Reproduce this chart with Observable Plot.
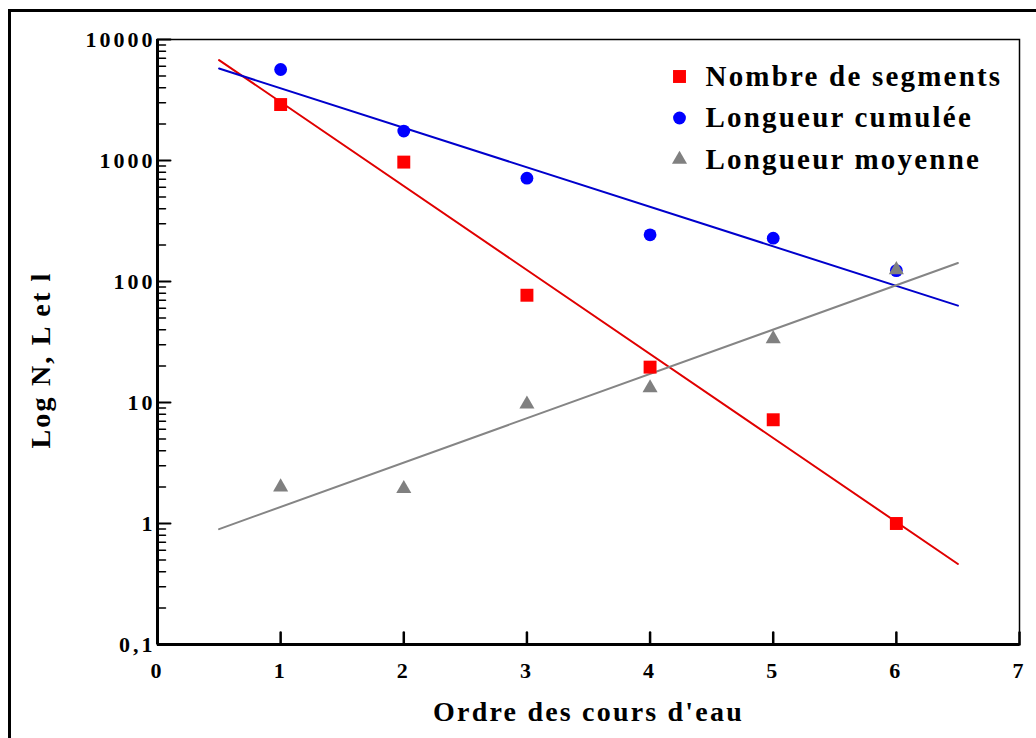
<!DOCTYPE html>
<html>
<head>
<meta charset="utf-8">
<script src="https://cdn.jsdelivr.net/npm/d3@7"></script>
<script src="https://cdn.jsdelivr.net/npm/@observablehq/plot@0.6"></script>
<style>
html, body { margin: 0; padding: 0; background: #fff; overflow: hidden; width: 1036px; height: 738px; }
#wrap { position: relative; width: 1036px; height: 738px; overflow: hidden; }
#border { position: absolute; left: 8px; top: 9px; width: 1200px; height: 900px; border-left: 3px solid #000; border-top: 3px solid #000; }
#chart { position: absolute; left: 0; top: 0; }
svg text { font-family: "Liberation Serif", "Times New Roman", serif; font-weight: bold; }
g[aria-label="y-axis tick label"] text, g[aria-label="x-axis tick label"] text { letter-spacing: 3px; }
g[aria-label="text"] text { letter-spacing: 2.2px; }
</style>
</head>
<body>
<div id="wrap"><div id="border"></div><div id="chart"></div></div>
<script>
// ---- Data ----
const orders = [1, 2, 3, 4, 5, 6];
const nombreSegments = [2900, 970, 77, 19.6, 7.2, 1.0];
const longueurCumulee = [5650, 1750, 714, 243, 228, 123];
const longueurMoyenne = [2.0, 1.94, 9.7, 13.2, 33.6, 125];

const seriesNames = ["Nombre de segments", "Longueur cumulée", "Longueur moyenne"];
const seriesColors = ["#ff0000", "#0000ff", "#808080"];
const lineColors = ["#e00000", "#0000cc", "#858585"];
const seriesSymbols = ["square", "circle", "triangle"];
const seriesRadius = [7.3, 6.4, 5.6];

const xTicks = [0, 1, 2, 3, 4, 5, 6, 7];
const xTickLabels = ["0", "1", "2", "3", "4", "5", "6", "7"];
const yTicks = [0.1, 1, 10, 100, 1000, 10000];
const yTickLabels = ["0,1", "1", "10", "100", "1000", "10000"];
const fitRange = [0.5, 6.5];
const xLabel = "Ordre des cours d'eau";
const yLabel = "Log N, L et l";

// ---- Derived tables ----
const seriesValues = [nombreSegments, longueurCumulee, longueurMoyenne];
const points = seriesValues.map((vals, s) => orders.map((x, i) => ({x, y: vals[i], s})));

// least-squares fit in log10 space (exponential trend lines)
function logFit(xs, ys) {
  const ly = ys.map(Math.log10);
  const mx = d3.mean(xs), my = d3.mean(ly);
  let sxy = 0, sxx = 0;
  xs.forEach((x, i) => { sxy += (x - mx) * (ly[i] - my); sxx += (x - mx) ** 2; });
  const b = sxy / sxx, a = my - b * mx;
  return fitRange.map(x => ({x, y: Math.pow(10, a + b * x)}));
}
const fits = seriesValues.map(vals => logFit(orders, vals));

const minorTicks = yTicks.slice(0, -1).flatMap(d => [2, 3, 4, 5, 6, 7, 8, 9].map(m => m * d));

const tickShape = { draw(context, l) { context.moveTo(0, 0); context.lineTo(0, -l); } };

const marks = [
  Plot.frame({stroke: "#000", strokeWidth: 1.5}),
  Plot.axisX(xTicks, {tickSize: 0, tickPadding: 18, fontSize: 22, label: null,
    tickFormat: d => xTickLabels[xTicks.indexOf(d)]}),
  Plot.axisY(yTicks, {tickSize: 0, tickPadding: 2, fontSize: 22, label: null,
    tickFormat: d => yTickLabels[yTicks.indexOf(d)]}),
  // inward ticks
  Plot.vector(yTicks, {x: 0, y: d => d, rotate: 90, length: 13, anchor: "start", shape: tickShape, stroke: "#000", strokeWidth: 2}),
  Plot.vector(minorTicks, {x: 0, y: d => d, rotate: 90, length: 8, anchor: "start", shape: tickShape, stroke: "#000", strokeWidth: 1.5}),
  Plot.vector(xTicks.slice(1), {x: d => d, y: 0.1, rotate: 0, length: 12, anchor: "start", shape: tickShape, stroke: "#000", strokeWidth: 2.5}),
  Plot.ruleX([0], {stroke: "#000", strokeWidth: 3}),
  Plot.ruleY([0.1], {stroke: "#000", strokeWidth: 3}),
];

// trend lines
fits.forEach((f, s) => {
  marks.push(Plot.line(f, {x: "x", y: "y", stroke: lineColors[s], strokeWidth: 2}));
});
// points
points.forEach((p, s) => {
  marks.push(Plot.dot(p, {x: "x", y: "y", symbol: seriesSymbols[s], fill: seriesColors[s], r: seriesRadius[s], stroke: "none"}));
});
// legend
seriesNames.forEach((name, s) => {
  marks.push(Plot.dot([name], {frameAnchor: "top-left", dx: 522, dy: 37 + s * 41.5, symbol: seriesSymbols[s], fill: seriesColors[s], r: seriesRadius[s], stroke: "none"}));
  marks.push(Plot.text([name], {frameAnchor: "top-left", dx: 548, dy: 37 + s * 41.5, text: d => d, textAnchor: "start", lineAnchor: "middle", fontSize: 29, fill: "#000"}));
});
// axis titles
marks.push(Plot.text([xLabel], {frameAnchor: "bottom", dy: 68, text: d => d, fontSize: 28, textAnchor: "middle", lineAnchor: "middle", fill: "#000"}));
marks.push(Plot.text([yLabel], {frameAnchor: "left", dx: -116, dy: 18, rotate: -90, text: d => d, fontSize: 28, textAnchor: "middle", lineAnchor: "middle", fill: "#000"}));

const plot = Plot.plot({
  width: 1036,
  height: 738,
  marginLeft: 157,
  marginRight: 17,
  marginTop: 39,
  marginBottom: 94,
  x: {domain: [0, 7]},
  y: {type: "log", domain: [0.1, 10000]},
  style: {fontFamily: "'Liberation Serif', 'Times New Roman', serif", fontSize: "22px", color: "#000", background: "transparent", overflow: "visible"},
  marks
});
document.getElementById("chart").appendChild(plot);
</script>
</body>
</html>
